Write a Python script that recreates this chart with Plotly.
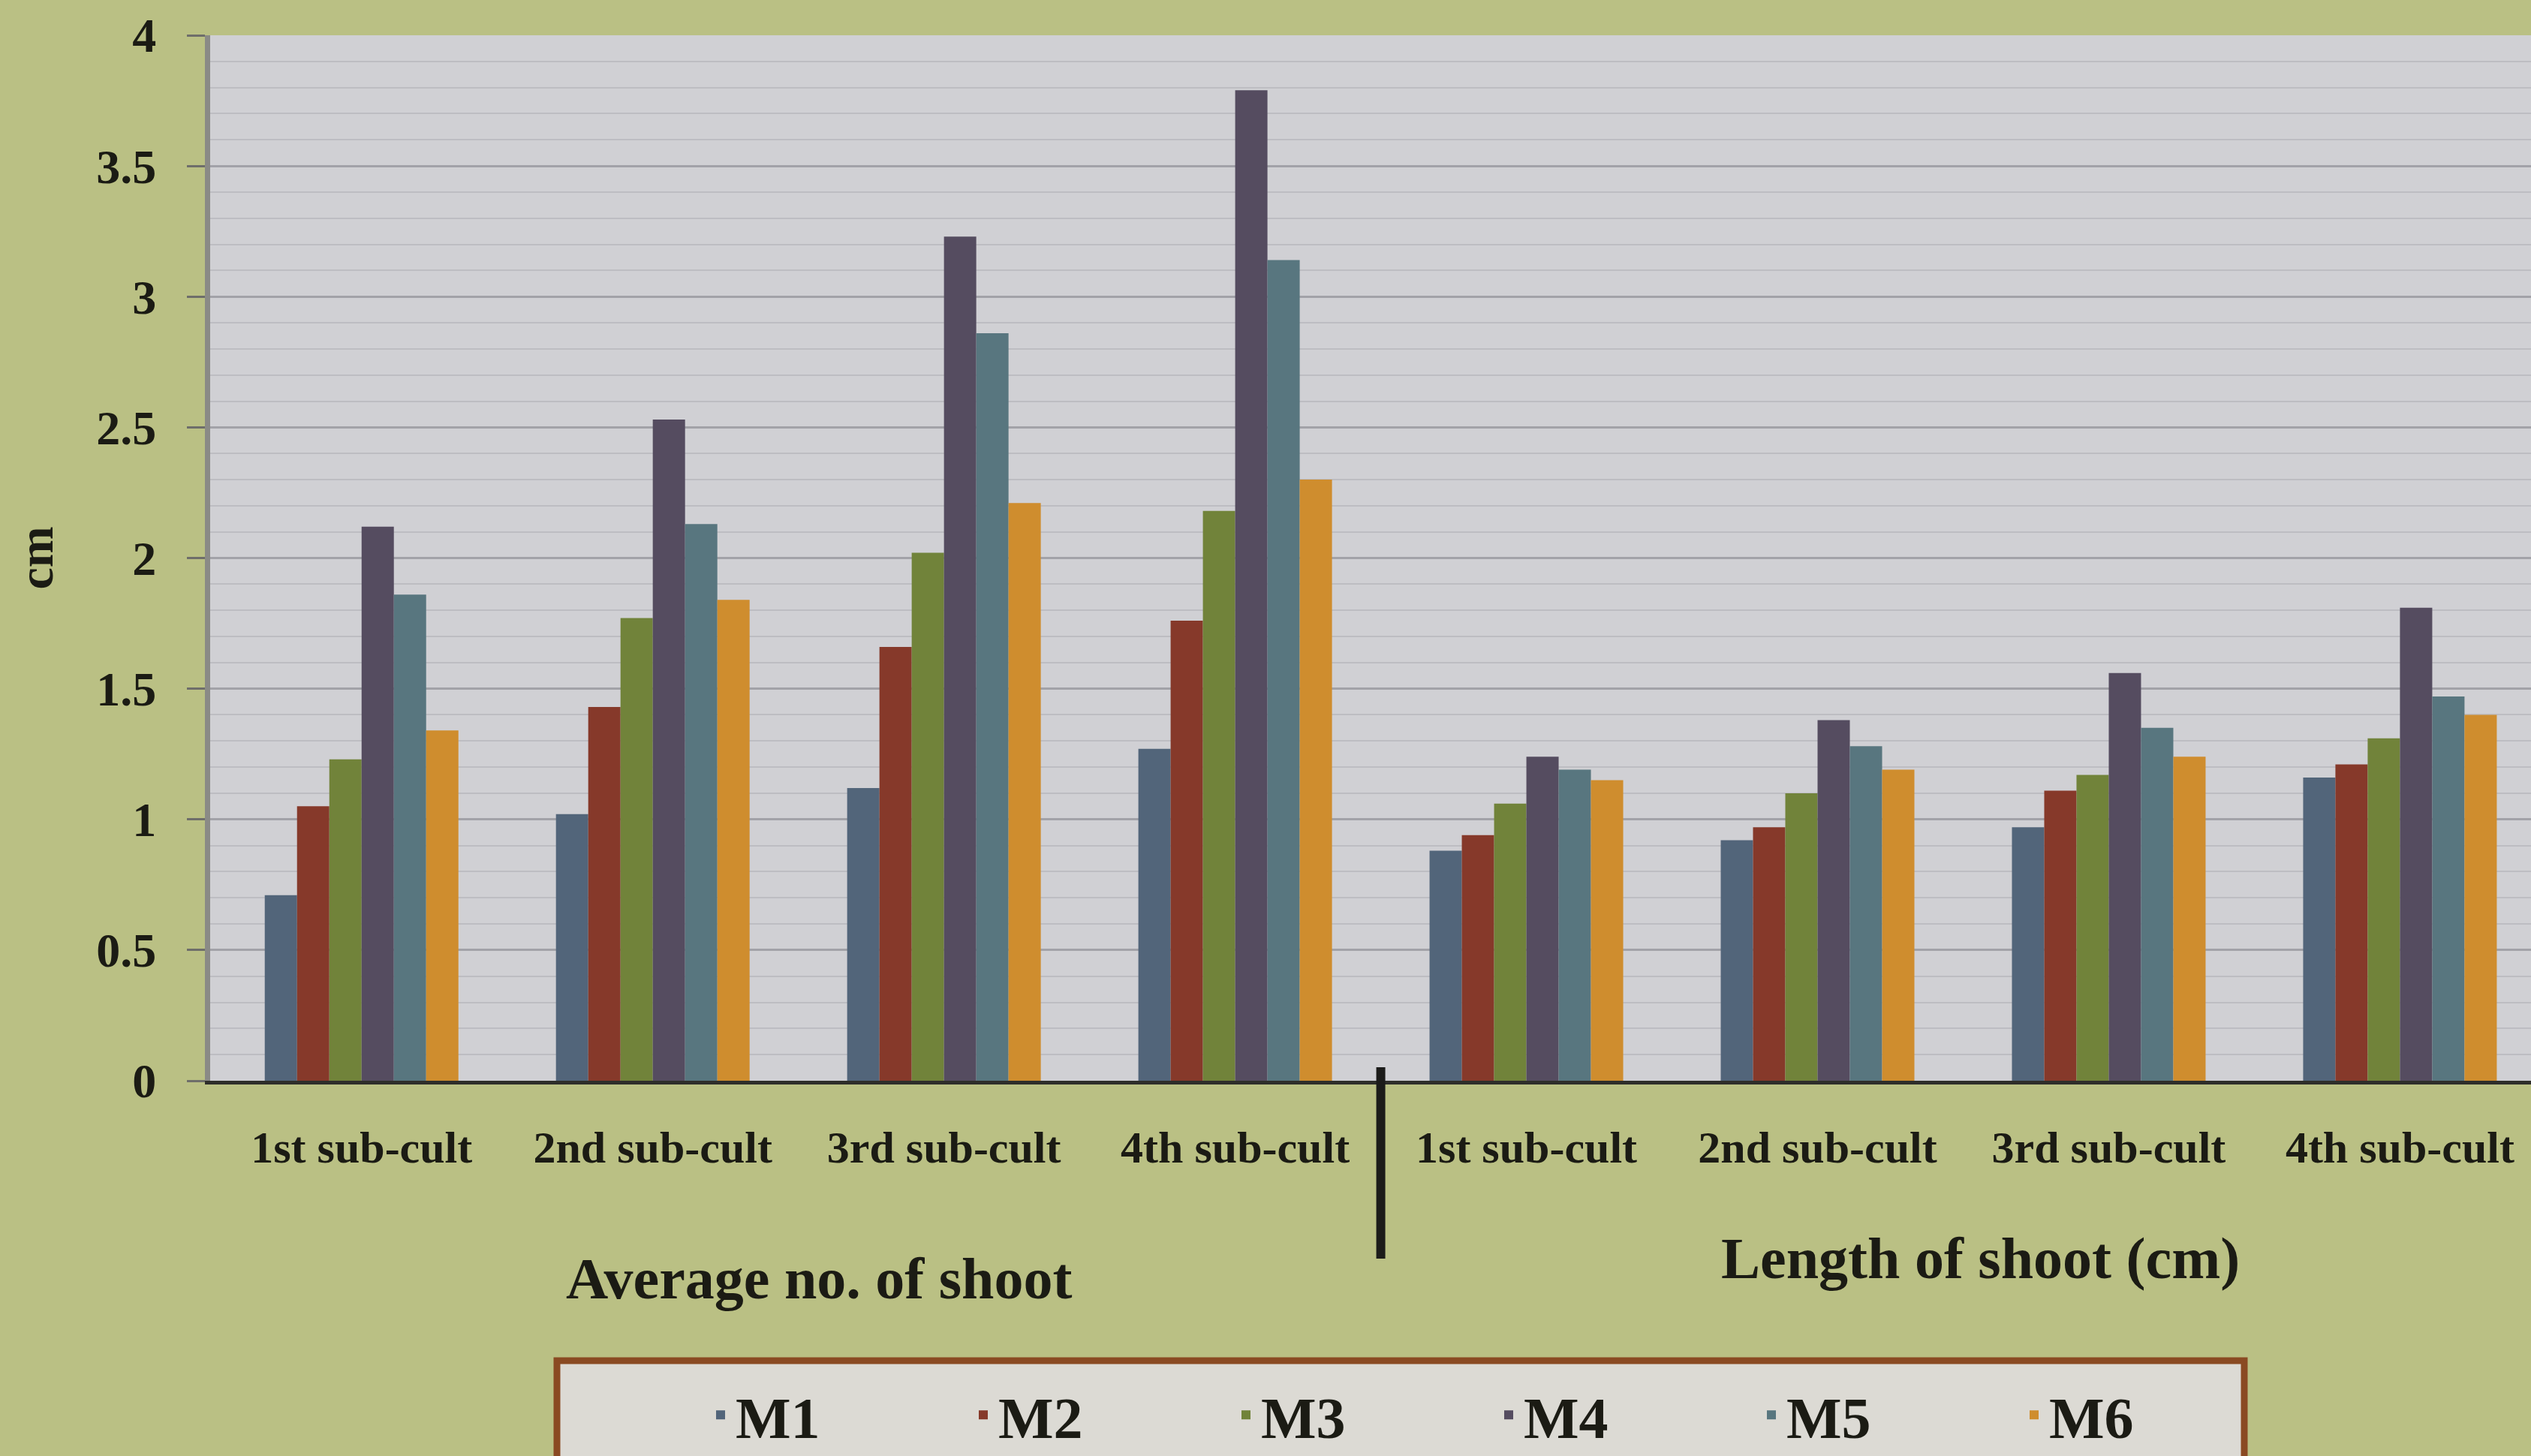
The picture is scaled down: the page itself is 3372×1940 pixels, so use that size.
import plotly.graph_objects as go

# Sub-culture cycles and the two measured parameters
subcultures = ["1st sub-cult", "2nd sub-cult", "3rd sub-cult", "4th sub-cult"]
parameters = ["Average no. of shoot", "Length of shoot (cm)"]

# Media M1..M6: average number of shoots per sub-culture
m1_shoot_no = [0.71, 1.02, 1.12, 1.27]
m2_shoot_no = [1.05, 1.43, 1.66, 1.76]
m3_shoot_no = [1.23, 1.77, 2.02, 2.18]
m4_shoot_no = [2.12, 2.53, 3.23, 3.79]
m5_shoot_no = [1.86, 2.13, 2.86, 3.14]
m6_shoot_no = [1.34, 1.84, 2.21, 2.30]

# Media M1..M6: shoot length (cm) per sub-culture
m1_shoot_len = [0.88, 0.92, 0.97, 1.16]
m2_shoot_len = [0.94, 0.97, 1.11, 1.21]
m3_shoot_len = [1.06, 1.10, 1.17, 1.31]
m4_shoot_len = [1.24, 1.38, 1.56, 1.81]
m5_shoot_len = [1.19, 1.28, 1.35, 1.47]
m6_shoot_len = [1.15, 1.19, 1.24, 1.40]

series_names = ["M1", "M2", "M3", "M4", "M5", "M6"]
series_colors = ["#52657a", "#86392a", "#71833a", "#554c60", "#58767f", "#cf8d2e"]

y_ticks = [0, 0.5, 1, 1.5, 2, 2.5, 3, 3.5, 4]
y_ticktext = ["0", "0.5", "1", "1.5", "2", "2.5", "3", "3.5", "4"]

series_values = [
    m1_shoot_no + m1_shoot_len,
    m2_shoot_no + m2_shoot_len,
    m3_shoot_no + m3_shoot_len,
    m4_shoot_no + m4_shoot_len,
    m5_shoot_no + m5_shoot_len,
    m6_shoot_no + m6_shoot_len,
]

# one unique category per (parameter, sub-culture); only the sub-culture is shown
category_keys = [f"{p}|{s}" for p in parameters for s in subcultures]
category_labels = [s for p in parameters for s in subcultures]

W, H = 3372, 1940
ML, MR, MT, MB = 280, 0, 47, 500
plot_h = H - MT - MB
plot_w = W - ML - MR

def py(px_y):
    """pixel row -> paper y"""
    return (H - MB - px_y) / plot_h

def px(px_x):
    """pixel column -> paper x"""
    return (px_x - ML) / plot_w

FONT = "Liberation Serif"
INK = "#1b1b14"

fig = go.Figure()
for name, color, vals in zip(series_names, series_colors, series_values):
    fig.add_trace(go.Bar(
        name=name, x=category_keys, y=vals,
        marker=dict(color=color, line=dict(width=0)),
    ))

fig.update_layout(
    width=W, height=H,
    margin=dict(l=ML, r=MR, t=MT, b=MB, autoexpand=False),
    paper_bgcolor="#bac084",
    plot_bgcolor="#d0d0d4",
    barmode="group",
    bargap=0.335,
    bargroupgap=0,
    font=dict(family=FONT, color=INK),
    showlegend=True,
    legend=dict(
        orientation="h",
        x=px(940), xanchor="left",
        y=py(1828), yanchor="top",
        bgcolor="rgba(0,0,0,0)",
        borderwidth=0,
        font=dict(family=FONT, size=78, weight="bold", color=INK),
        entrywidth=305, entrywidthmode="pixels",
        traceorder="normal",
    ),
)

fig.update_xaxes(
    type="category",
    categoryorder="array", categoryarray=category_keys,
    tickvals=category_keys, ticktext=category_labels,
    range=[-0.52, 7.45],
    showgrid=False, zeroline=False,
    showline=True, linecolor="#2e2e2a", linewidth=5,
    ticks="", ticklabelstandoff=32,
    tickfont=dict(family=FONT, size=60, weight="bold", color=INK),
)

fig.update_yaxes(
    range=[0, 4],
    tickvals=y_ticks, ticktext=y_ticktext,
    showgrid=True, gridcolor="#a2a2a8", gridwidth=3,
    minor=dict(dtick=0.1, showgrid=True, gridcolor="#bdbdc2", gridwidth=2),
    zeroline=False,
    showline=True, linecolor="#8a8a86", linewidth=7,
    ticks="outside", ticklen=24, tickwidth=3, tickcolor="#6e6e6a",
    ticklabelstandoff=28,
    tickfont=dict(family=FONT, size=64, weight="bold", color=INK),
)

# y-axis unit
fig.add_annotation(
    text="cm", xref="paper", yref="paper",
    x=px(47), y=0.5, xanchor="center", yanchor="middle",
    textangle=-90, showarrow=False,
    font=dict(family=FONT, size=66, weight="bold", color=INK),
)

# parameter titles under each block of sub-cultures
fig.add_annotation(
    text=parameters[0], xref="x", yref="paper",
    x=1.57, y=py(1703), xanchor="center", yanchor="middle",
    showarrow=False,
    font=dict(family=FONT, size=78, weight="bold", color=INK),
)
fig.add_annotation(
    text=parameters[1], xref="x", yref="paper",
    x=5.56, y=py(1676), xanchor="center", yanchor="middle",
    showarrow=False,
    font=dict(family=FONT, size=78, weight="bold", color=INK),
)

# divider between the two parameter blocks
fig.add_shape(
    type="line", xref="x", yref="paper",
    x0=3.5, x1=3.5, y0=py(1422), y1=py(1677),
    line=dict(color="#1c1c1a", width=12),
)

# legend frame
fig.add_shape(
    type="rect", xref="paper", yref="paper", layer="below",
    x0=px(742), x1=px(2990), y0=py(1813), y1=py(2000),
    fillcolor="#dcdad4",
    line=dict(color="#8a4a22", width=9),
)

fig.write_html("out.html")
